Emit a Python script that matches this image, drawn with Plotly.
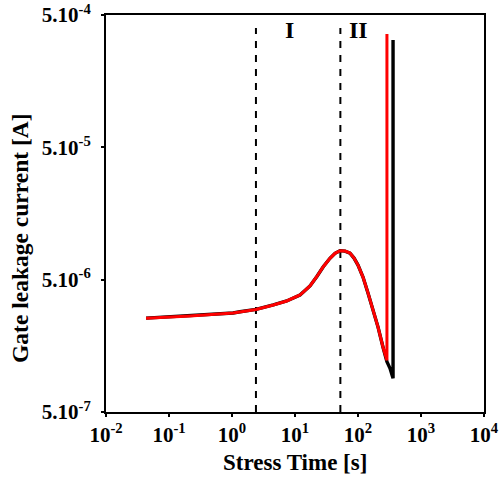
import plotly.graph_objects as go
import numpy as np

# Data
time_common = [0.0432, 0.215, 1.04, 1.34, 2.40, 4.53, 7.38, 12.0, 17.3, 22.1, 28.1, 35.9,
               43.2, 51.8, 62.2, 74.6, 86.5, 100, 120, 144, 173, 208, 249]
current_common = [2.56e-6, 2.66e-6, 2.80e-6, 2.86e-6, 2.98e-6, 3.22e-6, 3.45e-6, 3.83e-6,
                  4.48e-6, 5.26e-6, 6.26e-6, 7.25e-6, 7.91e-6, 8.28e-6, 8.22e-6, 7.94e-6,
                  7.28e-6, 6.44e-6, 5.23e-6, 3.97e-6, 2.95e-6, 2.19e-6, 1.55e-6]

red_time = time_common + [288, 288]
red_current = current_common + [1.23e-6, 3.59e-4]

black_time = time_common + [288, 322, 360, 360]
black_current = current_common + [1.20e-6, 1.07e-6, 9.0e-7, 3.23e-4]

region_bounds = [2.4, 52.5]
region_labels = ["I", "II"]
region_label_x = [8.3, 100]
region_label_y = 3.86e-4
dash_top = 3.99e-4
dash_bottom = 5e-7

x_tickvals = [1e-2, 1e-1, 1e0, 1e1, 1e2, 1e3, 1e4]
x_ticktext = ["10<sup>-2</sup>", "10<sup>-1</sup>", "10<sup>0</sup>", "10<sup>1</sup>",
              "10<sup>2</sup>", "10<sup>3</sup>", "10<sup>4</sup>"]
y_tickvals = [5e-7, 5e-6, 5e-5, 5e-4]
y_ticktext = ["5.10<sup>-7</sup>", "5.10<sup>-6</sup>", "5.10<sup>-5</sup>", "5.10<sup>-4</sup>"]
x_title = "Stress Time [s]"
y_title = "Gate leakage current [A]"

FONT = "Liberation Serif, Times New Roman, serif"

fig = go.Figure()

for xb in region_bounds:
    fig.add_trace(go.Scatter(x=[xb, xb], y=[dash_bottom, dash_top], mode="lines",
                             line=dict(color="black", width=2, dash="7px,7px"),
                             showlegend=False, hoverinfo="skip"))

fig.add_trace(go.Scatter(x=black_time, y=black_current, mode="lines",
                         line=dict(color="black", width=3.4),
                         showlegend=False))
fig.add_trace(go.Scatter(x=red_time, y=red_current, mode="lines",
                         line=dict(color="#ff0000", width=3),
                         showlegend=False))

for lx, lab in zip(region_label_x, region_labels):
    fig.add_annotation(x=np.log10(lx), y=np.log10(region_label_y), text="<b>%s</b>" % lab,
                       showarrow=False, font=dict(family=FONT, size=24, color="black"))

# axis titles as annotations (positioned like the reference)
fig.add_annotation(xref="paper", yref="paper", x=0.5, y=-0.128, yanchor="middle",
                   text="<b>%s</b>" % x_title, showarrow=False,
                   font=dict(family=FONT, size=23, color="black"))
fig.add_annotation(xref="paper", yref="paper", x=-0.228, y=0.438, xanchor="center",
                   yanchor="middle", textangle=-90,
                   text="<b>%s</b>" % y_title, showarrow=False,
                   font=dict(family=FONT, size=23.5, color="black"))

axis_common = dict(showline=True, linecolor="black", linewidth=2, mirror=True,
                   ticks="outside", ticklen=3, tickwidth=2, tickcolor="black",
                   showgrid=False, zeroline=False, automargin=False,
                   tickfont=dict(family=FONT, size=21, color="black"))

fig.update_xaxes(type="log", range=[-2, 4], tickvals=x_tickvals,
                 ticktext=["<b>%s</b>" % t for t in x_ticktext], **axis_common)
fig.update_yaxes(type="log", range=[np.log10(5e-7), np.log10(5e-4)], tickvals=y_tickvals,
                 ticktext=["<b>%s</b>" % t for t in y_ticktext], ticklabelstandoff=6,
                 **axis_common)

fig.update_layout(width=500, height=479, margin=dict(l=106, r=16, t=15, b=67),
                  plot_bgcolor="white", paper_bgcolor="white", showlegend=False)

fig.write_html("out.html", config={"displayModeBar": False},
               post_script="document.body.style.margin='0';document.body.style.overflow='hidden';")
